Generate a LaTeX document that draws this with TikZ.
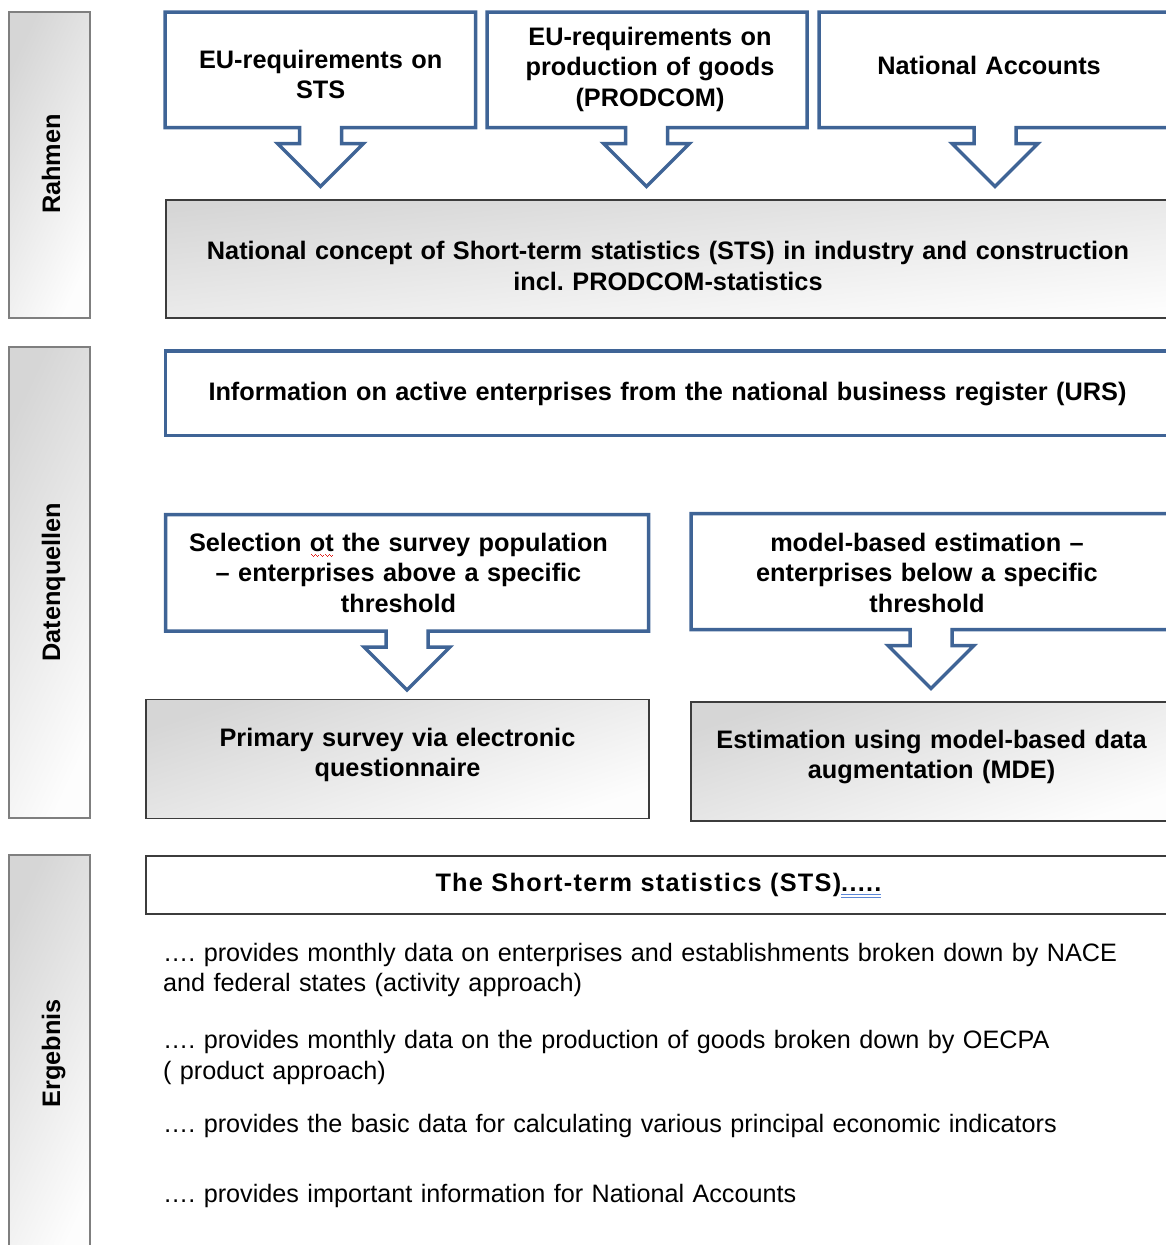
\documentclass[tikz,border=0pt]{standalone}
\usepackage{fontspec}
\setmainfont{Liberation Sans}
\frenchspacing
\usetikzlibrary{calc}
\definecolor{calloutblue}{HTML}{3F6496}
\definecolor{boxedge}{HTML}{3C3C3C}
\definecolor{baredge}{HTML}{7F7F7F}
\definecolor{shadedark}{HTML}{D6D6D6}
\definecolor{shadelight}{HTML}{FDFDFD}
\definecolor{spellred}{HTML}{E0201A}
\definecolor{autoblue}{HTML}{5B86D6}
\newcommand\spellwave[1]{\leavevmode\setbox0=\hbox{#1}%
  \rlap{\textcolor{spellred}{\hbox to \wd0{\xleaders\hbox{\rule[-3.5pt]{1pt}{1pt}\rule[-4.5pt]{1pt}{1pt}\rule[-5.5pt]{1pt}{1pt}\rule[-4.5pt]{1pt}{1pt}}\hfil}}}\box0\relax}
\newcommand\autoline[1]{\leavevmode\setbox0=\hbox{#1}%
  \rlap{\textcolor{autoblue}{\rule[-3.5pt]{\wd0}{1pt}}}%
  \rlap{\textcolor{autoblue}{\rule[-6.5pt]{\wd0}{1pt}}}\box0\relax}
\newcommand\callout[2]{%
  \draw[blueline] (#1.north west) -- (#1.north east) -- (#1.south east)
    -- ({#2+21},0 |- #1.south) -- ++(0,16) -- ++(22,0) -- ++(-43,43) -- ++(-43,-43)
    -- ++(22,0) -- ++(0,-16) -- (#1.south west) -- cycle;}
\tikzset{
  sidebar/.style={draw=baredge, line width=2, top color=shadedark, bottom color=shadelight,
    shading angle=65, inner sep=0, outer sep=0, anchor=north west},
  greybox/.style={draw=boxedge, line width=1.4, top color=shadedark, bottom color=shadelight,
    shading angle=#1, inner sep=0, outer sep=0, anchor=north west},
  greybox/.default=18,
  plainbox/.style={draw=boxedge, line width=1.4, fill=white, inner sep=0, outer sep=0,
    anchor=north west},
  frame/.style={inner sep=0, outer sep=0, anchor=north west},
  blueline/.style={draw=calloutblue, line width=3.5, fill=white, line join=miter},
  sidelabel/.style={font=\bfseries\fontsize{25.3}{30.5}\selectfont, rotate=90, anchor=base,
    inner sep=0},
  head/.style={font=\bfseries\fontsize{25.3}{30.5}\selectfont, text width=640, align=center,
    anchor=base, inner sep=0},
  body/.style={font=\fontsize{25.2}{30.5}\selectfont, text width=1100, align=left,
    anchor=base west, inner sep=0},
}
\begin{document}
\begin{tikzpicture}[x=1pt, y=-1pt]
\useasboundingbox (0,0) rectangle (1166,1245);
% side bars
\node[sidebar, minimum width=81, minimum height=306] (rahmen) at (9,11.5) {};
\node[sidebar, minimum width=81, minimum height=471.5] (daten) at (9,346.5) {};
\node[sidebar, minimum width=81, minimum height=410] (ergebnis) at (9,855) {};
\node[sidelabel] (rahmen-t) at (60,164) {Rahmen};
\node[sidelabel] (daten-t) at (60,582) {Datenquellen};
\node[sidelabel] (ergebnis-t) at (60,1053.5) {Ergebnis};
% grey boxes
\node[greybox=6, minimum width=1009, minimum height=118] (concept) at (166,200) {};
\node[greybox, minimum width=503, minimum height=119] (primary) at (146,699.5) {};
\node[greybox, minimum width=484, minimum height=119] (estim) at (691,702) {};
\node[plainbox, minimum width=1029, minimum height=58] (sts) at (146,856) {};
% callout frames
\node[frame, minimum width=310.5, minimum height=115.5] (eu) at (165,12) {};
\node[frame, minimum width=320, minimum height=115.5] (prod) at (487,12) {};
\node[frame, minimum width=356, minimum height=115.5] (nacc) at (819,12) {};
\node[frame, minimum width=1009.5, minimum height=84.5] (urs) at (165.5,351) {};
\node[frame, minimum width=483, minimum height=116.5] (sel) at (165.5,514.5) {};
\node[frame, minimum width=484, minimum height=116] (mod) at (691,513.5) {};
\callout{eu}{320.5}
\callout{prod}{646.5}
\callout{nacc}{995}
\draw[blueline] (urs.north west) rectangle (urs.south east);
\callout{sel}{407}
\callout{mod}{931}
% texts
\node[head] (eu-t) at (320.7,68) {EU-requirements on\\STS};
\node[head] (prod-t) at (650,45) {EU-requirements on\\production of goods\\(PRODCOM)};
\node[head] (nacc-t) at (989,74) {National Accounts};
\node[head, text width=1000] (concept-t) at (668,259.5) {National concept of Short-term statistics (STS) in industry and construction\\incl. PRODCOM-statistics};
\node[head, text width=1000] (urs-t) at (667.5,400.5) {Information on active enterprises from the national business register (URS)};
\node[head] (sel-t) at (398.5,551) {Selection \spellwave{ot} the survey population\\– enterprises above a specific\\threshold};
\node[head] (mod-t) at (927,551) {model-based estimation –\\enterprises below a specific\\threshold};
\node[head] (prim-t) at (397.5,746) {Primary survey via electronic\\questionnaire};
\node[head] (est-t) at (931.5,748.3) {Estimation using model-based data\\augmentation (MDE)};
\node[head, text width=1000] (sts-t) at (658.5,891.5) {\addfontfeature{LetterSpace=5}The Short-term statistics (STS)\autoline{.....}};
\node[body] (res1) at (163,961) {…. provides monthly data on enterprises and establishments broken down by NACE\\and federal states (activity approach)};
\node[body] (res2) at (163,1048.5) {…. provides monthly data on the production of goods broken down by OECPA\\( product approach)};
\node[body] (res3) at (163,1132) {…. provides the basic data for calculating various principal economic indicators};
\node[body] (res4) at (163,1202) {…. provides important information for National Accounts};
\end{tikzpicture}
\end{document}
